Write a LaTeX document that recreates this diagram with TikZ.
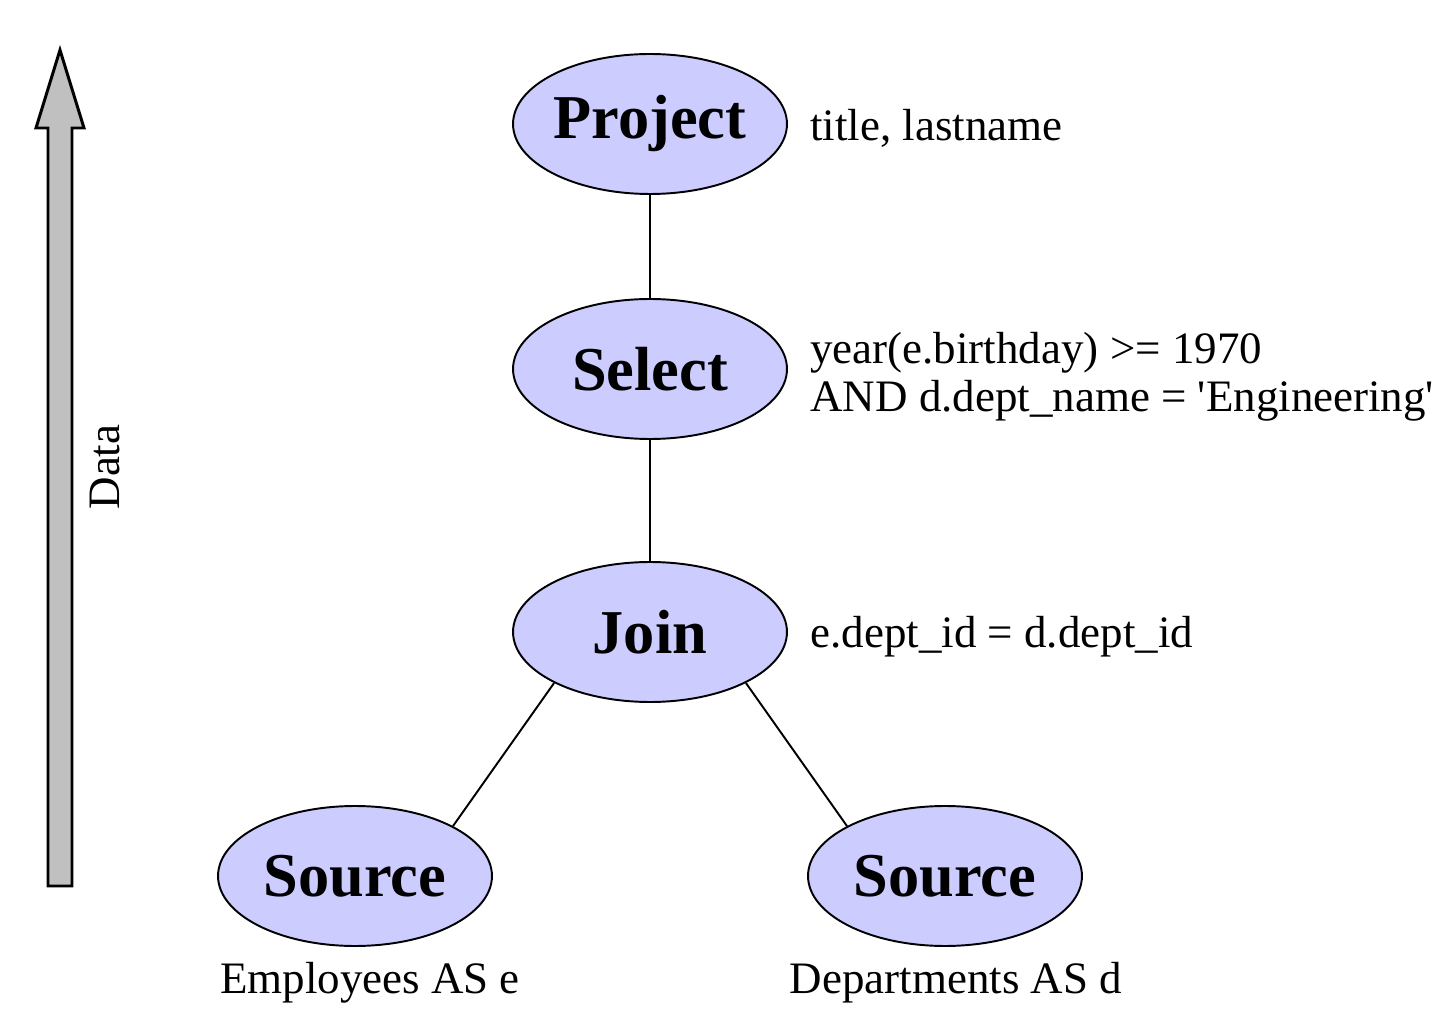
\documentclass[tikz,border=0pt]{standalone}
\usepackage{fontspec}
\setmainfont{Liberation Serif}[Ligatures=TeXOff]
\usetikzlibrary{shapes.geometric}
\definecolor{opfill}{RGB}{204,204,255}
\definecolor{arrowgray}{RGB}{192,192,192}
\begin{document}
\begin{tikzpicture}[x=0.02cm,y=-0.02cm,
  opnode/.style={ellipse,draw=black,line width=1.1pt,fill=opfill,minimum width=5.48cm,minimum height=2.8cm,inner sep=0pt,font=\fontsize{35.5}{40}\selectfont\bfseries},
  note/.style={font=\fontsize{25.6}{27.3}\selectfont,inner sep=0pt,align=left},
  link/.style={line width=1.1pt,draw=black}]
\useasboundingbox (0,0) rectangle (1448,1020);
% Data flow arrow
\draw[line width=1.7pt,fill=arrowgray,line join=miter]
  (48,886) -- (48,128) -- (36,128) -- (60,50) -- (84,128) -- (72,128) -- (72,886) -- cycle;
\node[note,rotate=90] (data) at (105,467) {Data};
% operator nodes
\node[opnode] (P) at (650,124) {Project};
\node[opnode] (S) at (650,369) {Select};
\node[opnode] (J) at (650,632) {Join};
\node[opnode] (SL) at (355,876) {Source};
\node[opnode] (SR) at (945,876) {Source};
% connectors
\draw[link] (P) -- (S);
\draw[link] (S) -- (J);
\draw[link] (J.208) -- (SL.27);
\draw[link] (J.332) -- (SR.153);
% annotations
\node[note,anchor=west] (tp) at (810,128) {title, lastname};
\node[note,anchor=west] (ts) at (810,377) {year(e.birthday) >= 1970\\AND d.dept\_name = 'Engineering'};
\node[note,anchor=west] (tj) at (810,637) {e.dept\_id = d.dept\_id};
\node[note] (tl) at (370,983) {Employees AS e};
\node[note] (tr) at (956,983) {Departments AS d};
\end{tikzpicture}
\end{document}
